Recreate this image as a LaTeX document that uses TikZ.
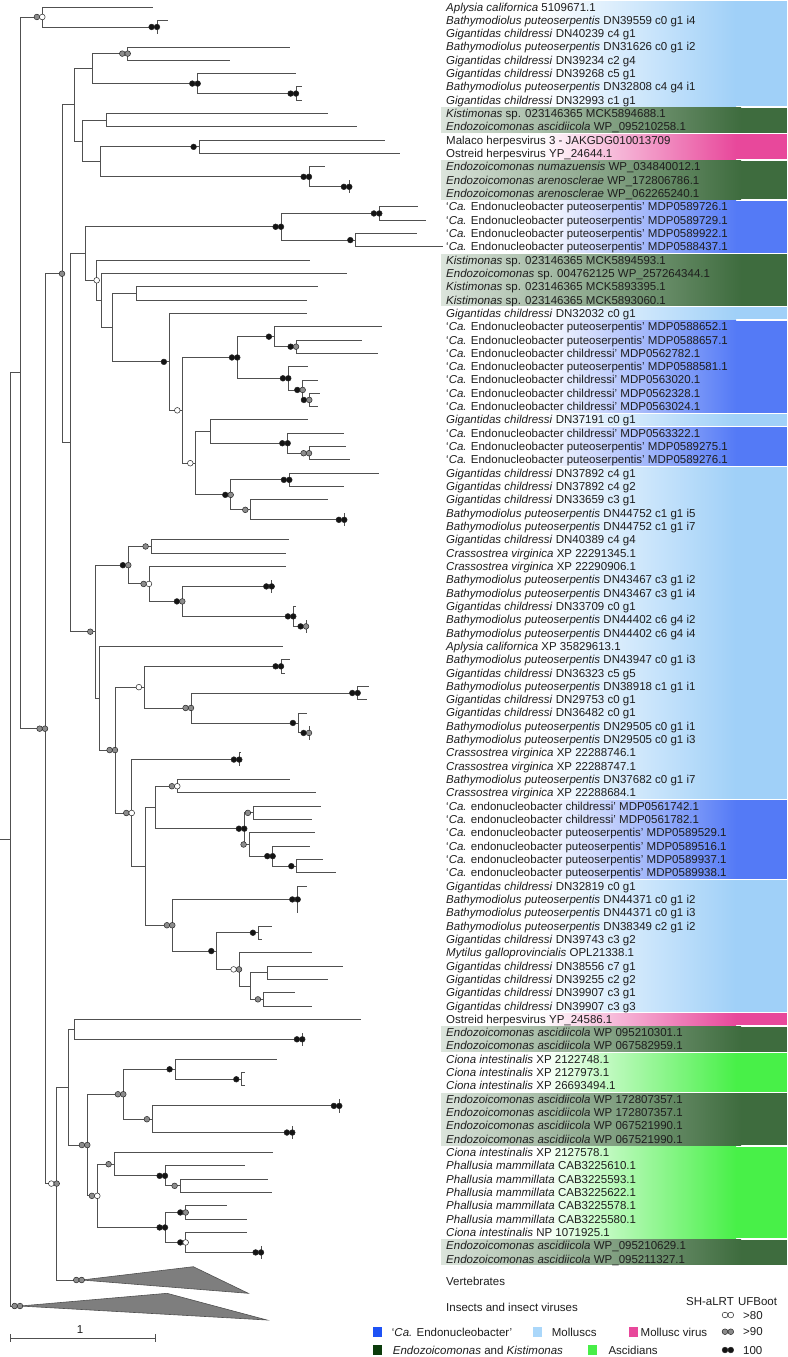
\documentclass[tikz,border=0pt]{standalone}
\usepackage{fontspec}
\setmainfont{Liberation Sans}
\usetikzlibrary{calc}
\definecolor{mol}{RGB}{160,208,248}
\definecolor{blu}{RGB}{84,122,246}
\definecolor{dgr}{RGB}{62,108,62}
\definecolor{pnk}{RGB}{232,72,155}
\definecolor{grn}{RGB}{72,240,72}
\definecolor{lgblue}{RGB}{30,82,245}
\definecolor{lgmol}{RGB}{170,215,250}
\definecolor{lgdgr}{RGB}{12,60,12}
\definecolor{lggrn}{RGB}{72,238,72}
\definecolor{linec}{RGB}{80,80,80}
\definecolor{cg}{RGB}{140,140,140}
\definecolor{cb}{RGB}{20,20,20}
\definecolor{cw}{RGB}{255,255,255}
\definecolor{txt}{RGB}{30,30,30}
\newcommand\tBp{\textit{Bathymodiolus puteoserpentis}}
\newcommand\tGc{\textit{Gigantidas childressi}}
\newcommand\tEa{\textit{Endozoicomonas ascidiicola}}
\newcommand\tKs{\textit{Kistimonas} sp.}
\newcommand\tCv{\textit{Crassostrea virginica}}
\newcommand\tCi{\textit{Ciona intestinalis}}
\newcommand\tPm{\textit{Phallusia mammillata}}
\newcommand\tEP{‘\textit{Ca.} Endonucleobacter puteoserpentis’}
\newcommand\tEC{‘\textit{Ca.} Endonucleobacter childressi’}
\newcommand\tep{‘\textit{Ca.} endonucleobacter puteoserpentis’}
\newcommand\tec{‘\textit{Ca.} endonucleobacter childressi’}
\newcommand\bandL[3]{%
  \shade[left color=white,right color=#3] (540,{7+(#1-1)*13.32-5.9}) rectangle (736,{7+(#2-1)*13.32+5.9});
  \fill[#3] (735.5,{7+(#1-1)*13.32-5.9}) rectangle (787,{7+(#2-1)*13.32+5.9});}
\newcommand\bandD[3]{%
  \shade[left color=#3!18,right color=#3] (441,{7+(#1-1)*13.32-5.9}) rectangle (741,{7+(#2-1)*13.32+5.9});
  \fill[#3] (740.5,{7+(#1-1)*13.32-5.9}) rectangle (787,{7+(#2-1)*13.32+5.9});}
\tikzset{
  tree/.style={draw=linec,line width=0.9pt},
  cc/.style={draw=black!85,line width=0.5pt},
  lab/.style={anchor=base west,inner sep=0pt,text=txt,font=\fontsize{11.5}{13}\selectfont},
  tri/.style={fill=cg!90!black,draw=linec,line width=0.6pt},
}
\begin{document}
\begin{tikzpicture}[x=1pt,y=-1pt]
\useasboundingbox (0,0) rectangle (787,1357);
\fill[white] (0,0) rectangle (787,1357);
% ---- colour bands
\bandL{1}{8}{mol}
\bandD{9}{10}{dgr}
\bandL{11}{12}{pnk}
\bandD{13}{15}{dgr}
\bandL{16}{19}{blu}
\bandD{20}{23}{dgr}
\bandL{24}{24}{mol}
\bandL{25}{31}{blu}
\bandL{32}{32}{mol}
\bandL{33}{35}{blu}
\bandL{36}{60}{mol}
\bandL{61}{66}{blu}
\bandL{67}{76}{mol}
\bandL{77}{77}{pnk}
\bandD{78}{79}{dgr}
\bandL{80}{82}{grn}
\bandD{83}{86}{dgr}
\bandL{87}{93}{grn}
\bandD{94}{95}{dgr}
% ---- leaf ends
\foreach \i/\x in {1/153,2/168,3/157,4/290,5/230,6/296,7/302,8/302,9/327.7,10/356.7,11/385,12/400,13/325,14/349.3,15/349.3,16/418,17/425.7,18/416.7,19/443,20/310,21/346.7,22/318.3,23/306.7,24/306.7,25/381.7,26/361.7,27/377.7,28/308.3,29/318.3,30/320,31/317.7,32/308.3,33/344.3,34/346,35/350,36/379.3,37/344.3,38/327.7,39/344.3,40/344.3,41/289.3,42/286,43/286,44/271.7,45/271.7,46/296,47/306,48/306,49/283.3,50/290,51/285,52/369.3,53/366.7,54/307.3,55/309,56/309,57/240.7,58/239.3,59/290,60/316,61/320.7,62/311.7,63/315,64/310,65/322.7,66/335.7,67/306.7,68/297.7,69/297.7,70/271.7,71/261.7,72/311.7,73/343.3,74/327.7,75/295,76/311.7,77/361,78/302.3,79/302.3,80/276.7,81/245,82/245,83/339.3,84/339.3,85/292.3,86/292.3,87/272.7,88/245,89/267.7,90/271.7,91/226.7,92/247.3,93/247.3,94/261,95/261}
  \coordinate (l\i) at (\x,{7+(\i-1)*13.32});
% ---- internal nodes
\foreach \n/\x/\y in {R0/10.7/839.4,A/20.7/372.83,B/42.3/16.99,D/157/26.98,C/45/728.66,E/62/273.72,G/74/104.82,H/92.3/68.6,J/127.7/53.62,K/197.7/83.59,L/296/93.58,I/82.3/141.03,M/106.7/120.22,N/100/161.85,O/199/146.86,P/309/176.83,Q/349.3/186.82,R/70.7/442.62,S/85.7/253.54,T/281/226.78,U/379.3/213.46,V/355.7/240.1,W/96.7/280.3,X/101.7/300.51,Y/112.3/327.62,Z/136/293.38,AA/169.3/361.86,AB/182.7/410.35,AC/237.3/357.48,AE/274.3/336.67,AG/296/346.66,AF/288.3/378.3,AH/302.7/389.95,AI/309.3/399.94,AD/195.7/463.21,AJ/210.7/431.58,AL/287.7/443.23,AM/309/453.22,AK/230.7/494.85,AN/289.3/479.86,AO/250.7/509.83,AP/344.3/519.82,AQ/95.7/631.7,AT/128.3/565.19,AU/151/546.46,AV/149/583.92,AW/182.3/601.4,AX/271.7/586.42,AY/293.3/616.39,AZ/306/626.38,AR/99/698.21,AS/115/750.06,BA/144.3/687.15,BC/281/666.34,BD/191/707.97,BE/357.7/692.98,BF/298.3/722.95,BG/309/732.94,BB/131.7/812.97,BH/239.3/759.58,BI/145.7/866.35,BJ/155.7/807.45,BK/177.3/786.22,BL/244.3/828.68,BM/253.3/812.86,BN/249/844.5,BO/272.7/856.15,BP/296.7/866.14,BQ/172.3/925.25,BR/297.7/899.44,BS/216.7/951.06,BT/258.3/932.74,BU/239/969.37,BV/250/986.02,BW/267.7/972.7,BX/263.3/999.34,F/56.7/1183.59,FA/68.3/1087.18,FB/74/1029.31,FD/302.3/1039.3,FC/87.3/1145.04,FE/123.3/1094.25,FG/175/1069.27,FGb/241.7/1079.26,FH/152.3/1119.22,FHa/339.3/1105.9,FHb/292.3/1132.54,FF/97.3/1195.82,FI/114/1164.18,FJ/165/1175.83,FK/180/1185.82,FL/165/1227.45,FM/185.7/1212.46,FN/185.7/1242.43,FO/261/1252.42,VERT/81.7/1280,INS/20/1306}
  \coordinate (\n) at (\x,\y);
\coordinate (root) at (0,839.4);
\coordinate (VERTa) at (193.3,1266.7);
\coordinate (VERTb) at (248.3,1293.3);
\coordinate (INSa) at (167,1293.3);
\coordinate (INSb) at (267,1320);
% ---- branches
\draw[tree] (root) -- (R0);
\foreach \p/\c in {R0/A,R0/INS,A/B,A/C,B/l1,B/D,D/l2,D/l3,C/E,C/F,E/G,E/R,G/H,G/I,H/J,H/K,J/l4,J/l5,K/l6,K/L,L/l7,L/l8,I/M,I/N,M/l9,M/l10,N/O,N/P,O/l11,O/l12,P/l13,P/Q,Q/l14,Q/l15,R/S,R/AQ,S/T,S/W,T/U,T/V,U/l16,U/l17,V/l18,V/l19,W/l20,W/X,X/l21,X/Y,Y/Z,Y/AA,Z/l22,Z/l23,AA/l24,AA/AB,AB/AC,AB/AD,AC/AE,AC/AF,AE/l25,AE/AG,AG/l26,AG/l27,AF/l28,AF/AH,AH/l29,AH/AI,AI/l30,AI/l31,AD/AJ,AD/AK,AJ/l32,AJ/AL,AL/l33,AL/AM,AM/l34,AM/l35,AK/AN,AK/AO,AN/l36,AN/l37,AO/l38,AO/AP,AP/l39,AP/l40,AQ/AT,AQ/AR,AT/AU,AT/AV,AU/l41,AU/l42,AV/l43,AV/AW,AW/AX,AW/AY,AX/l44,AX/l45,AY/l46,AY/AZ,AZ/l47,AZ/l48,AR/l49,AR/AS,AS/BA,AS/BB,BA/BC,BA/BD,BC/l50,BC/l51,BD/BE,BD/BF,BE/l52,BE/l53,BF/l54,BF/BG,BG/l55,BG/l56,BB/BH,BB/BI,BH/l57,BH/l58,BI/BJ,BI/BQ,BJ/BK,BJ/BL,BK/l59,BK/l60,BL/BM,BL/BN,BM/l61,BM/l62,BN/l63,BN/BO,BO/l64,BO/BP,BP/l65,BP/l66,BQ/BR,BQ/BS,BR/l67,BR/l68,BR/l69,BS/BT,BS/BU,BT/l70,BT/l71,BU/l72,BU/BV,BV/BW,BV/BX,BW/l73,BW/l74,BX/l75,BX/l76,F/FA,F/VERT,FA/FB,FA/FC,FB/l77,FB/FD,FD/l78,FD/l79,FC/FE,FC/FF,FE/FG,FE/FH,FG/l80,FG/FGb,FGb/l81,FGb/l82,FH/FHa,FH/FHb,FHa/l83,FHa/l84,FHb/l85,FHb/l86,FF/FI,FF/FL,FI/l87,FI/FJ,FJ/l88,FJ/FK,FK/l89,FK/l90,FL/FM,FL/FN,FM/l91,FM/l92,FN/l93,FN/FO,FO/l94,FO/l95}
  \draw[tree] (\p) |- (\c);
% ---- collapsed clades
\filldraw[tri] (VERT) -- (VERTa) -- (VERTb) -- cycle;
\filldraw[tri] (INS) -- (INSa) -- (INSb) -- cycle;
% ---- support circles (pairs: SH-aLRT left, UFBoot right)
\foreach \n/\a/\b in {B/cg/cw,D/cb/cb,C/cg/cg,J/cg/cg,K/cb/cb,L/cb/cb,P/cb/cb,Q/cb/cb,T/cb/cb,U/cb/cb,AC/cb/cb,AG/cb/cg,AF/cb/cb,AH/cb/cg,AI/cb/cg,AL/cb/cb,AM/cg/cg,AK/cb/cg,AN/cb/cb,AP/cb/cb,AT/cb/cg,AV/cg/cw,AW/cb/cg,AX/cb/cb,AY/cb/cb,AZ/cb/cg,AS/cg/cg,BC/cb/cb,BD/cg/cg,BE/cb/cb,BG/cb/cg,BB/cg/cw,BH/cb/cb,BK/cg/cw,BL/cb/cb,BO/cb/cb,BQ/cg/cg,BR/cb/cb,BU/cw/cg,F/cw/cg,FD/cb/cb,FC/cg/cg,FE/cg/cg,FHa/cb/cb,FHb/cb/cb,FF/cg/cw,FJ/cb/cb,FL/cb/cb,FM/cb/cg,FN/cb/cw,FO/cb/cb,VERT/cg/cg,INS/cg/cg}
  {\filldraw[cc,fill=\a] ($(\n)+(-5.4,0)$) circle[radius=2.85];
   \filldraw[cc,fill=\b] (\n) circle[radius=2.85];}
\foreach \n/\a in {O/cb,V/cb,AA/cb,AB/cw,AE/cb,AD/cw,AO/cg,AQ/cg,AU/cg,BA/cw,BF/cb,BM/cg,BN/cg,BP/cb,BS/cb,BT/cb,BX/cg,FG/cb,FGb/cb,FH/cg,FI/cg,FK/cg}
  \filldraw[cc,fill=\a] ($(\n)+(-5.4,0)$) circle[radius=2.85];
\foreach \n/\a in {E/cg,W/cw}
  \filldraw[cc,fill=\a] (\n) circle[radius=2.85];
% ---- leaf labels
\foreach \i/\lbl in {1/{\textit{Aplysia californica} 5109671.1},2/{\tBp{} DN39559 c0 g1 i4},3/{\tGc{} DN40239 c4 g1},4/{\tBp{} DN31626 c0 g1 i2},5/{\tGc{} DN39234 c2 g4},6/{\tGc{} DN39268 c5 g1},7/{\tBp{} DN32808 c4 g4 i1},8/{\tGc{} DN32993 c1 g1},9/{\tKs{} 023146365 MCK5894688.1},10/{\tEa{} WP\_095210258.1},11/{Malaco herpesvirus 3 - JAKGDG010013709},12/{Ostreid herpesvirus YP\_24644.1},13/{\textit{Endozoicomonas numazuensis} WP\_034840012.1},14/{\textit{Endozoicomonas arenosclerae} WP\_172806786.1},15/{\textit{Endozoicomonas arenosclerae} WP\_062265240.1},16/{\tEP{} MDP0589726.1},17/{\tEP{} MDP0589729.1},18/{\tEP{} MDP0589922.1},19/{\tEP{} MDP0588437.1},20/{\tKs{} 023146365 MCK5894593.1},21/{\textit{Endozoicomonas} sp. 004762125 WP\_257264344.1},22/{\tKs{} 023146365 MCK5893395.1},23/{\tKs{} 023146365 MCK5893060.1},24/{\tGc{} DN32032 c0 g1},25/{\tEP{} MDP0588652.1},26/{\tEP{} MDP0588657.1},27/{\tEC{} MDP0562782.1},28/{\tEP{} MDP0588581.1},29/{\tEC{} MDP0563020.1},30/{\tEC{} MDP0562328.1},31/{\tEC{} MDP0563024.1},32/{\tGc{} DN37191 c0 g1},33/{\tEC{} MDP0563322.1},34/{\tEP{} MDP0589275.1},35/{\tEP{} MDP0589276.1},36/{\tGc{} DN37892 c4 g1},37/{\tGc{} DN37892 c4 g2},38/{\tGc{} DN33659 c3 g1},39/{\tBp{} DN44752 c1 g1 i5},40/{\tBp{} DN44752 c1 g1 i7},41/{\tGc{} DN40389 c4 g4},42/{\tCv{} XP 22291345.1},43/{\tCv{} XP 22290906.1},44/{\tBp{} DN43467 c3 g1 i2},45/{\tBp{} DN43467 c3 g1 i4},46/{\tGc{} DN33709 c0 g1},47/{\tBp{} DN44402 c6 g4 i2},48/{\tBp{} DN44402 c6 g4 i4},49/{\textit{Aplysia californica} XP 35829613.1},50/{\tBp{} DN43947 c0 g1 i3},51/{\tGc{} DN36323 c5 g5},52/{\tBp{} DN38918 c1 g1 i1},53/{\tGc{} DN29753 c0 g1},54/{\tGc{} DN36482 c0 g1},55/{\tBp{} DN29505 c0 g1 i1},56/{\tBp{} DN29505 c0 g1 i3},57/{\tCv{} XP 22288746.1},58/{\tCv{} XP 22288747.1},59/{\tBp{} DN37682 c0 g1 i7},60/{\tCv{} XP 22288684.1},61/{\tec{} MDP0561742.1},62/{\tec{} MDP0561782.1},63/{\tep{} MDP0589529.1},64/{\tep{} MDP0589516.1},65/{\tep{} MDP0589937.1},66/{\tep{} MDP0589938.1},67/{\tGc{} DN32819 c0 g1},68/{\tBp{} DN44371 c0 g1 i2},69/{\tBp{} DN44371 c0 g1 i3},70/{\tBp{} DN38349 c2 g1 i2},71/{\tGc{} DN39743 c3 g2},72/{\textit{Mytilus galloprovincialis} OPL21338.1},73/{\tGc{} DN38556 c7 g1},74/{\tGc{} DN39255 c2 g2},75/{\tGc{} DN39907 c3 g1},76/{\tGc{} DN39907 c3 g3},77/{Ostreid herpesvirus YP\_24586.1},78/{\tEa{} WP 095210301.1},79/{\tEa{} WP 067582959.1},80/{\tCi{} XP 2122748.1},81/{\tCi{} XP 2127973.1},82/{\tCi{} XP 26693494.1},83/{\tEa{} WP 172807357.1},84/{\tEa{} WP 172807357.1},85/{\tEa{} WP 067521990.1},86/{\tEa{} WP 067521990.1},87/{\tCi{} XP 2127578.1},88/{\tPm{} CAB3225610.1},89/{\tPm{} CAB3225593.1},90/{\tPm{} CAB3225622.1},91/{\tPm{} CAB3225578.1},92/{\tPm{} CAB3225580.1},93/{\tCi{} NP 1071925.1},94/{\tEa{} WP\_095210629.1},95/{\tEa{} WP\_095211327.1}}
  \node[lab] (t\i) at (446,{7+(\i-1)*13.32+4}) {\lbl};
\node[lab] (tvert) at (446,1285) {Vertebrates};
\node[lab] (tins) at (446,1311) {Insects and insect viruses};
% ---- scale bar
\coordinate (sb1) at (10.7,1338.3);
\coordinate (sb2) at (155,1338.3);
\draw[tree,line width=0.7pt] (sb1) -- (sb2);
\draw[tree,line width=0.7pt] ($(sb1)+(0,-4)$) -- ($(sb1)+(0,4)$);
\draw[tree,line width=0.7pt] ($(sb2)+(0,-4)$) -- ($(sb2)+(0,4)$);
\node[lab,anchor=base] (sblab) at (80,1333) {1};
% ---- legend
\fill[lgblue] (372.7,1327.3) rectangle (381.7,1336.7);
\node[lab] (lg1) at (391.7,1336) {‘\textit{Ca.} Endonucleobacter’};
\fill[lgmol] (532.7,1327.3) rectangle (541.7,1336.7);
\node[lab] (lg2) at (551.7,1336) {Molluscs};
\fill[pnk] (629.3,1327.3) rectangle (638.3,1336.7);
\node[lab] (lg3) at (640.5,1336) {Mollusc virus};
\fill[lgdgr] (372.7,1345) rectangle (381.7,1355);
\node[lab] (lg4) at (392.7,1354) {\textit{Endozoicomonas} and \textit{Kistimonas}};
\fill[lggrn] (587.7,1345) rectangle (597.3,1355);
\node[lab] (lg5) at (608.3,1354) {Ascidians};
\node[lab,anchor=base] (lgh1) at (710,1305) {SH-aLRT};
\node[lab,anchor=base] (lgh2) at (757.5,1305) {UFBoot};
\foreach \yy/\a/\t in {1315/cw/{>80},1331.7/cg/{>90},1350/cb/{100}}{
  \filldraw[cc,fill=\a] (725,\yy) circle[radius=2.85];
  \filldraw[cc,fill=\a] (730.8,\yy) circle[radius=2.85];
  \node[lab] at (743,\yy+4) {\t};}
\end{tikzpicture}
\end{document}
